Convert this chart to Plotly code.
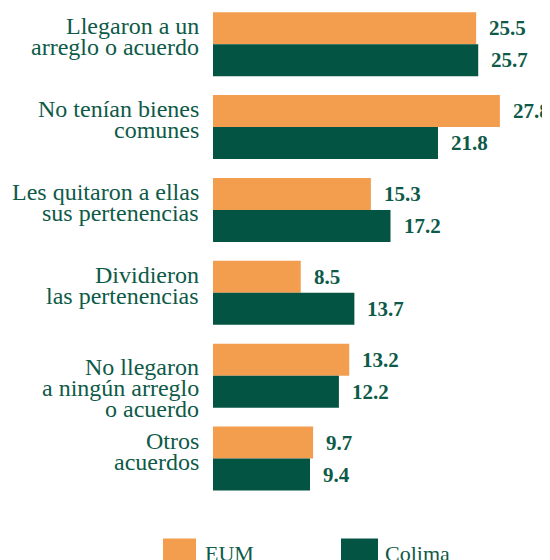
import plotly.graph_objects as go

categories = [
    "Llegaron a un<br>arreglo o acuerdo",
    "No tenían bienes<br>comunes",
    "Les quitaron a ellas<br>sus pertenencias",
    "Dividieron<br>las pertenencias",
    "No llegaron<br>a ningún arreglo<br>o acuerdo",
    "Otros<br>acuerdos",
]
series_names = ["EUM", "Colima"]
eum = [25.5, 27.8, 15.3, 8.5, 13.2, 9.7]
colima = [25.7, 21.8, 17.2, 13.7, 12.2, 9.4]

ORANGE = "#F39D4F"
GREEN = "#035442"
TEXT = "#0E5A48"
FONT = "Liberation Serif"

W, H = 542, 552
L, R, T = 205, 0, 3
UNIT = 82.8          # px per category
PH = 5.9 * UNIT
B = H - T - PH
PW = W - L - R
BARGAP = 0.228

fig = go.Figure()
fig.add_trace(go.Bar(y=list(range(len(categories))), x=eum, orientation="h",
                     name=series_names[0], marker=dict(color=ORANGE, line=dict(width=0))))
fig.add_trace(go.Bar(y=list(range(len(categories))), x=colima, orientation="h",
                     name=series_names[1], marker=dict(color=GREEN, line=dict(width=0))))

annotations = []
bar_half = (1 - BARGAP) / 4
for i, (e, c) in enumerate(zip(eum, colima)):
    for val, off in ((e, -bar_half), (c, bar_half)):
        annotations.append(dict(
            x=val, y=i + off, xref="x", yref="y", text=f"<b>{val:.1f}</b>",
            showarrow=False, xanchor="left", yanchor="middle", xshift=11,
            font=dict(family=FONT, size=21, color=TEXT)))

# category labels, one text per line for the tight line spacing of the original
LINE = 21
for i, cat in enumerate(categories):
    lines = cat.split("<br>")
    start = -11 if len(lines) <= 2 else -2   # baseline offset of first line (px below centre)
    for k, ln in enumerate(lines):
        baseline = start + LINE * k
        annotations.append(dict(
            x=0, y=i, xref="paper", yref="y", text=ln, showarrow=False,
            xanchor="right", yanchor="middle", xshift=-12, yshift=-(baseline - 7),
            font=dict(family=FONT, size=24, color=TEXT)))

def px_x(p):
    return (p - L) / PW

def px_y(p):
    return (T + PH - p) / PH

shapes = []
legend_items = [(series_names[0], ORANGE, 155, 188, 195), (series_names[1], GREEN, 333, 370, 375)]
for name, col, x0, x1, tx in legend_items:
    shapes.append(dict(type="rect", xref="paper", yref="paper",
                       x0=px_x(x0), x1=px_x(x1), y0=px_y(530), y1=px_y(560),
                       fillcolor=col, line=dict(width=0)))
    annotations.append(dict(x=px_x(tx), y=px_y(545), xref="paper", yref="paper",
                            text=name, showarrow=False, xanchor="left", yanchor="middle",
                            font=dict(family=FONT, size=22, color=TEXT)))

fig.update_layout(
    width=W, height=H,
    margin=dict(l=L, r=R, t=T, b=B, autoexpand=False, pad=0),
    paper_bgcolor="white", plot_bgcolor="white",
    barmode="group", bargap=BARGAP, bargroupgap=0,
    showlegend=False,
    xaxis=dict(range=[0, PW / 10.32], visible=False, fixedrange=True),
    yaxis=dict(range=[5.5, -0.4], visible=False, fixedrange=True),
    annotations=annotations, shapes=shapes,
)

fig.write_html("out.html")
